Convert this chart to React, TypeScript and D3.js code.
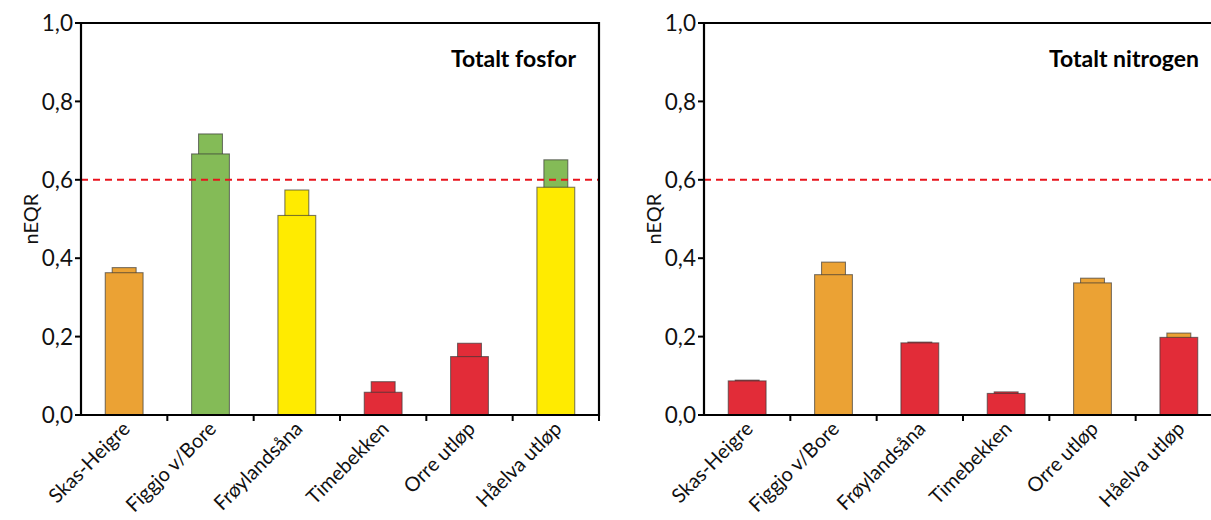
import React from "react";
import * as d3 from "d3";

const categories = ["Skas-Heigre", "Figgjo v/Bore", "Frøylandsåna", "Timebekken", "Orre utløp", "Håelva utløp"];
const phosMain = [0.363, 0.666, 0.509, 0.058, 0.149, 0.581];
const phosUpper = [0.376, 0.717, 0.574, 0.085, 0.183, 0.651];
const nitMain = [0.087, 0.358, 0.184, 0.055, 0.337, 0.198];
const nitUpper = [0.089, 0.390, 0.186, 0.059, 0.349, 0.209];
const yTicks = [0, 0.2, 0.4, 0.6, 0.8, 1.0];
const classBreaks = [0.2, 0.4, 0.6];
const classColors = ["#E22C38", "#EBA234", "#FFEB00", "#84BB57"];
const goodLimit = 0.6;

const W = 1211;
const H = 520;
const top = 23;
const bottom = 415;
const panelWidth = 518;
const FONT = "Lato, 'Open Sans', sans-serif";

const colorOf = d3.scaleThreshold<number, string>().domain(classBreaks).range(classColors);
const fmt = (v: number) => d3.format(".1f")(v).replace(".", ",");

function Panel({ x0, title, main, upper }: { x0: number; title: string; main: number[]; upper: number[] }) {
  const x = d3.scaleBand<string>().domain(categories).range([x0, x0 + panelWidth]).paddingInner(0).paddingOuter(0);
  const y = d3.scaleLinear().domain([0, 1]).range([bottom, top]);
  const bw = x.bandwidth();
  const mainW = bw * 0.438;
  const capW = bw * 0.277;
  const right = x0 + panelWidth;
  const stroke = "rgba(55,55,55,0.65)";
  return (
    <g>
      {categories.map((c, i) => {
        const cx = (x(c) as number) + bw / 2;
        return (
          <g key={c}>
            <rect x={cx - capW / 2} y={y(upper[i])} width={capW} height={y(0) - y(upper[i])} fill={colorOf(upper[i])} stroke={stroke} strokeWidth={1.1} />
            <rect x={cx - mainW / 2} y={y(main[i])} width={mainW} height={y(0) - y(main[i])} fill={colorOf(main[i])} stroke={stroke} strokeWidth={1.1} />
          </g>
        );
      })}
      <line x1={x0} x2={right} y1={y(goodLimit)} y2={y(goodLimit)} stroke="#E8141C" strokeWidth={2} strokeDasharray="7,5" />
      <path d={`M${x0},${bottom}V${top}H${right}V${bottom}Z`} fill="none" stroke="#000" strokeWidth={2.2} />
      {yTicks.map((t) => (
        <g key={t}>
          <line x1={x0 - 6} x2={x0} y1={y(t)} y2={y(t)} stroke="#000" strokeWidth={2} />
          <text x={x0 - 8} y={y(t)} dy="0.36em" textAnchor="end" fontFamily={FONT} fontSize={22.5} fill="#111">
            {fmt(t)}
          </text>
        </g>
      ))}
      {categories.map((c) => (
        <line key={c} x1={(x(c) as number) + bw} x2={(x(c) as number) + bw} y1={bottom} y2={bottom + 6} stroke="#000" strokeWidth={2} />
      ))}
      {categories.map((c) => {
        const cx = (x(c) as number) + bw / 2 + 7;
        const ty = bottom + 15;
        return (
          <text key={c} x={cx} y={ty} textAnchor="end" transform={`rotate(-45,${cx},${ty})`} fontFamily={FONT} fontSize={20} fill="#111">
            {c}
          </text>
        );
      })}
      <text x={x0 - 50} y={(top + bottom) / 2} textAnchor="middle" dy="0.35em" transform={`rotate(-90,${x0 - 50},${(top + bottom) / 2})`} fontFamily={FONT} fontSize={20} fill="#111">
        nEQR
      </text>
      <text x={right - 23} y={67} textAnchor="end" fontFamily={FONT} fontWeight={700} fontSize={23} fill="#000">
        {title}
      </text>
    </g>
  );
}

export default function App() {
  return (
    <svg width={W} height={H} style={{ position: "absolute", left: 0, top: 0, background: "#fff" }}>
      <rect width={W} height={H} fill="#fff" />
      <Panel x0={81} title="Totalt fosfor" main={phosMain} upper={phosUpper} />
      <Panel x0={704} title="Totalt nitrogen" main={nitMain} upper={nitUpper} />
    </svg>
  );
}
